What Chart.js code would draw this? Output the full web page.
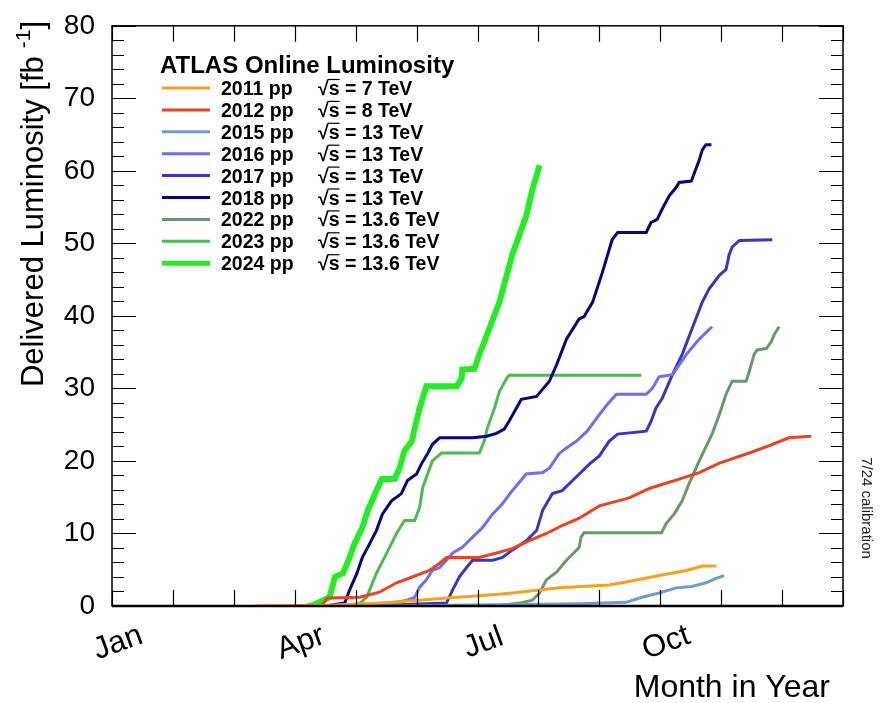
<!DOCTYPE html>
<html>
<head>
<meta charset="utf-8">
<script src="https://cdn.jsdelivr.net/npm/chart.js@4.4.1/dist/chart.umd.min.js"></script>
<style>
  html, body { margin: 0; padding: 0; background: #fff; }
  #wrap { width: 883px; height: 703px; }
</style>
</head>
<body>
<div id="wrap"><canvas id="lumi" width="883" height="703"></canvas></div>
<script>
// months since Jan 1 (0 = Jan, 12 = end of Dec), luminosity in fb^-1
const m2011 = [2.34, 3.57, 4.39, 5.05, 5.49, 6.03, 6.57, 7.34, 8.16, 8.44, 8.98, 9.43, 9.69, 9.92];
const l2011 = [0, 0.1, 0.4, 0.8, 1.1, 1.4, 1.8, 2.5, 2.9, 3.3, 4.2, 4.9, 5.5, 5.5];

const m2012 = [2.92, 3.44, 3.54, 4.07, 4.39, 4.67, 4.93, 5.21, 5.38, 5.49, 6.03, 6.31, 6.57, 6.85, 7.13, 7.39, 7.67, 8.00, 8.49, 8.82, 9.31, 9.64, 9.97, 10.46, 10.79, 11.11, 11.48];
const l2012 = [0, 0.1, 1.1, 1.2, 1.9, 3.2, 4.0, 4.9, 5.9, 6.7, 6.7, 7.3, 7.9, 9.0, 10.0, 11.1, 12.1, 13.8, 14.9, 16.2, 17.5, 18.4, 19.7, 21.1, 22.1, 23.2, 23.4];

const m2015 = [4.56, 7.67, 8.44, 8.70, 8.98, 9.26, 9.52, 9.75, 9.92, 10.05];
const l2015 = [0, 0.3, 0.5, 1.2, 1.8, 2.5, 2.7, 3.2, 3.8, 4.2];

const m2016 = [3.74, 4.44, 4.84, 4.97, 5.05, 5.16, 5.26, 5.38, 5.49, 5.59, 5.75, 5.92, 6.08, 6.25, 6.41, 6.57, 6.80, 7.07, 7.18, 7.34, 7.46, 7.62, 7.80, 8.00, 8.13, 8.28, 8.77, 8.87, 8.98, 9.20, 9.43, 9.64, 9.85];
const l2016 = [0, 0.1, 0.8, 1.2, 2.6, 3.6, 4.9, 5.3, 6.3, 7.3, 8.1, 9.5, 10.8, 12.7, 14.1, 15.9, 18.2, 18.4, 19.0, 21.0, 21.8, 22.7, 24.1, 26.4, 27.8, 29.2, 29.2, 30.0, 31.6, 31.9, 34.7, 36.8, 38.5];

const m2017 = [4.2, 5.49, 5.59, 5.70, 5.82, 5.92, 6.25, 6.41, 6.57, 6.80, 6.97, 7.07, 7.23, 7.39, 7.56, 7.67, 7.84, 8.00, 8.16, 8.30, 8.77, 8.85, 8.93, 9.03, 9.20, 9.36, 9.52, 9.69, 9.80, 9.97, 10.08, 10.13, 10.18, 10.30, 10.84];
const l2017 = [0, 0.4, 2.2, 4.0, 5.3, 6.3, 6.3, 6.7, 7.7, 9.0, 10.4, 13.2, 15.5, 15.9, 17.3, 18.2, 19.6, 20.7, 22.7, 23.7, 24.1, 25.5, 27.3, 28.6, 31.9, 34.7, 38.2, 41.9, 43.7, 45.6, 46.4, 48.4, 49.5, 50.4, 50.5];

const m2018 = [3.38, 3.57, 3.82, 3.90, 4.02, 4.11, 4.23, 4.34, 4.44, 4.59, 4.75, 4.85, 5.00, 5.08, 5.18, 5.26, 5.38, 5.92, 6.15, 6.31, 6.44, 6.52, 6.64, 6.72, 6.97, 7.07, 7.18, 7.30, 7.46, 7.67, 7.75, 7.89, 8.05, 8.21, 8.30, 8.77, 8.85, 8.95, 9.03, 9.15, 9.26, 9.31, 9.51, 9.56, 9.64, 9.69, 9.75, 9.84];
const l2018 = [0, 0.1, 0.4, 2.2, 4.5, 6.7, 8.6, 10.4, 12.7, 14.5, 15.5, 17.3, 18.2, 19.6, 21.0, 22.3, 23.2, 23.2, 23.4, 23.8, 24.4, 25.5, 27.3, 28.5, 28.9, 29.9, 31.0, 33.3, 36.8, 39.6, 39.9, 41.9, 46.0, 50.5, 51.5, 51.5, 52.9, 53.3, 54.7, 56.6, 57.7, 58.4, 58.6, 59.7, 61.5, 62.9, 63.6, 63.6];

const m2022 = [6.3, 6.69, 6.90, 7.02, 7.13, 7.30, 7.46, 7.59, 7.67, 7.70, 7.75, 9.02, 9.10, 9.23, 9.36, 9.48, 9.64, 9.85, 9.97, 10.08, 10.18, 10.41, 10.46, 10.54, 10.59, 10.74, 10.82, 10.87, 10.95];
const l2022 = [0, 0.4, 0.8, 1.8, 3.6, 4.7, 6.3, 7.4, 8.1, 9.5, 10.1, 10.1, 11.4, 12.7, 14.5, 17.0, 20.0, 23.7, 26.4, 29.2, 31.0, 31.0, 32.3, 34.7, 35.3, 35.5, 36.4, 37.4, 38.5];

const m2023 = [3.82, 4.07, 4.18, 4.34, 4.51, 4.67, 4.80, 4.97, 5.05, 5.10, 5.18, 5.26, 5.41, 6.03, 6.11, 6.16, 6.28, 6.36, 6.48, 6.52, 8.69];
const l2023 = [0, 0.4, 1.2, 4.5, 7.3, 10.0, 11.8, 11.8, 13.6, 16.3, 18.2, 20.0, 21.1, 21.1, 22.7, 24.5, 27.3, 29.6, 31.4, 31.8, 31.8];

const m2024 = [3.21, 3.30, 3.57, 3.66, 3.79, 3.90, 3.98, 4.11, 4.20, 4.34, 4.43, 4.64, 4.72, 4.80, 4.92, 4.97, 5.05, 5.16, 5.66, 5.74, 5.75, 5.95, 6.03, 6.11, 6.36, 6.57, 6.80, 6.90, 7.02];
const l2024 = [0, 0.1, 1.2, 4.0, 4.5, 6.7, 8.6, 10.8, 13.2, 15.9, 17.5, 17.5, 19.0, 21.4, 22.7, 24.5, 27.3, 30.3, 30.3, 31.4, 32.6, 32.7, 34.7, 36.4, 41.9, 48.4, 53.8, 57.4, 60.8];

const years    = ['2011', '2012', '2015', '2016', '2017', '2018', '2022', '2023', '2024'];
const energies = ['7', '8', '13', '13', '13', '13', '13.6', '13.6', '13.6'];
const COLORS   = ['#f7a21c', '#ea4320', '#6c9dce', '#6e6ef2', '#3737c2', '#06067e', '#6a986a', '#4dbb4d', '#22ee22'];
const WIDTHS   = [3, 3, 3, 3, 3, 3, 3, 3, 6];
const seriesM  = [m2011, m2012, m2015, m2016, m2017, m2018, m2022, m2023, m2024];
const seriesL  = [l2011, l2012, l2015, l2016, l2017, l2018, l2022, l2023, l2024];

const monthTicks  = [0, 3, 6, 9];
const monthLabels = ['Jan', 'Apr', 'Jul', 'Oct'];

const FONT = "'Liberation Sans', Arial, Helvetica, sans-serif";

const datasets = years.map((yr, i) => ({
  label: yr + ' pp',
  data: seriesM[i].map((m, k) => ({ x: m, y: seriesL[i][k] })),
  borderColor: COLORS[i],
  backgroundColor: COLORS[i],
  borderWidth: WIDTHS[i],
  pointRadius: 0,
  tension: 0,
  fill: false,
}));

// ROOT-like frame, inward ticks, rotated labels, legend and extra texts
const rootStyle = {
  id: 'rootStyle',
  afterDatasetsDraw(chart) {
    const { ctx, chartArea: a, scales: { x, y } } = chart;
    ctx.save();
    ctx.strokeStyle = '#000';
    ctx.lineWidth = 1.2;
    ctx.beginPath();
    for (let v = 0; v <= 80; v += 2) {
      const py = Math.round(y.getPixelForValue(v)) + 0.5;
      const len = v % 10 === 0 ? 24 : 12;
      ctx.moveTo(a.left, py); ctx.lineTo(a.left + len, py);
      ctx.moveTo(a.right, py); ctx.lineTo(a.right - len, py);
    }
    for (let m = 0; m <= 12; m++) {
      const px = Math.round(x.getPixelForValue(m)) + 0.5;
      ctx.moveTo(px, a.bottom); ctx.lineTo(px, a.bottom - 16);
      ctx.moveTo(px, a.top); ctx.lineTo(px, a.top + 16);
    }
    ctx.stroke();
    ctx.lineWidth = 1.5;
    ctx.strokeRect(a.left, a.top, a.right - a.left, a.bottom - a.top);
    ctx.beginPath();
    ctx.lineWidth = 2.5;
    ctx.moveTo(a.left, a.bottom); ctx.lineTo(a.right, a.bottom);
    ctx.stroke();

    ctx.fillStyle = '#000';
    // month labels, tilted
    ctx.font = '31px ' + FONT;
    ctx.textAlign = 'center';
    ctx.textBaseline = 'middle';
    monthTicks.forEach((v, i) => {
      ctx.save();
      ctx.translate(x.getPixelForValue(v) + 6, 643);
      ctx.rotate(-20 * Math.PI / 180);
      ctx.fillText(monthLabels[i], 0, 0);
      ctx.restore();
    });

    // axis titles
    ctx.textAlign = 'right';
    ctx.textBaseline = 'alphabetic';
    ctx.font = '32px ' + FONT;
    ctx.fillText('Month in Year', 830, 697);

    ctx.save();
    ctx.translate(34, 204);
    ctx.rotate(-Math.PI / 2);
    ctx.textAlign = 'left';
    ctx.textBaseline = 'middle';
    const main = 'Delivered Luminosity [fb', sup = '-1', close = ']';
    ctx.font = '31px ' + FONT;
    const wMain = ctx.measureText(main).width, wClose = ctx.measureText(close).width;
    ctx.font = '21px ' + FONT;
    const wSup = ctx.measureText(sup).width;
    const gap = 8;
    let tx = -(wMain + gap + wSup + wClose) / 2;
    ctx.font = '31px ' + FONT;
    ctx.fillText(main, tx, 0);
    tx += wMain + gap;
    ctx.font = '21px ' + FONT;
    ctx.fillText(sup, tx, -10);
    tx += wSup;
    ctx.font = '31px ' + FONT;
    ctx.fillText(close, tx, 0);
    ctx.restore();

    ctx.save();
    ctx.translate(866, 508);
    ctx.rotate(Math.PI / 2);
    ctx.textAlign = 'center';
    ctx.textBaseline = 'middle';
    ctx.font = '15px ' + FONT;
    ctx.fillStyle = '#222';
    ctx.fillText('7/24 calibration', 0, 0);
    ctx.restore();

    // legend
    ctx.textAlign = 'left';
    ctx.textBaseline = 'alphabetic';
    ctx.font = 'bold 24px ' + FONT;
    ctx.fillText('ATLAS Online Luminosity', 160, 73);
    chart.data.datasets.forEach((ds, i) => {
      const yc = 88 + i * 21.9;
      ctx.beginPath();
      ctx.strokeStyle = ds.borderColor;
      ctx.lineWidth = i === 8 ? 5 : 3;
      ctx.moveTo(162, yc); ctx.lineTo(210, yc);
      ctx.stroke();
      ctx.font = 'bold 19.5px ' + FONT;
      ctx.fillText(ds.label, 221, yc + 7);
      const sx = 318;
      const wRad = ctx.measureText('\u221A').width;
      const wS = ctx.measureText('s').width;
      ctx.fillText('\u221A', sx, yc + 7);
      ctx.fillText('s = ' + energies[i] + ' TeV', sx + wRad, yc + 7);
      ctx.beginPath();
      ctx.strokeStyle = '#000';
      ctx.lineWidth = 1.2;
      ctx.moveTo(sx + wRad - 1, yc - 8.5);
      ctx.lineTo(sx + wRad + wS, yc - 8.5);
      ctx.stroke();
    });
    ctx.restore();
  }
};

new Chart(document.getElementById('lumi'), {
  type: 'line',
  data: { datasets },
  plugins: [rootStyle],
  options: {
    responsive: false,
    animation: false,
    devicePixelRatio: 1,
    layout: { padding: { left: 0, right: 40, top: 21, bottom: 0 } },
    plugins: { legend: { display: false }, tooltip: { enabled: false } },
    scales: {
      x: {
        type: 'linear',
        min: 0, max: 12,
        grid: { display: false },
        border: { display: false },
        ticks: { display: false },
        afterFit: s => { s.height = 97; },
      },
      y: {
        min: 0, max: 80,
        grid: { display: false },
        border: { display: false },
        ticks: {
          stepSize: 10,
          padding: 9,
          color: '#000',
          font: { family: FONT, size: 28 },
        },
        afterFit: s => { s.width = 112; },
      },
    },
  },
});
</script>
</body>
</html>
